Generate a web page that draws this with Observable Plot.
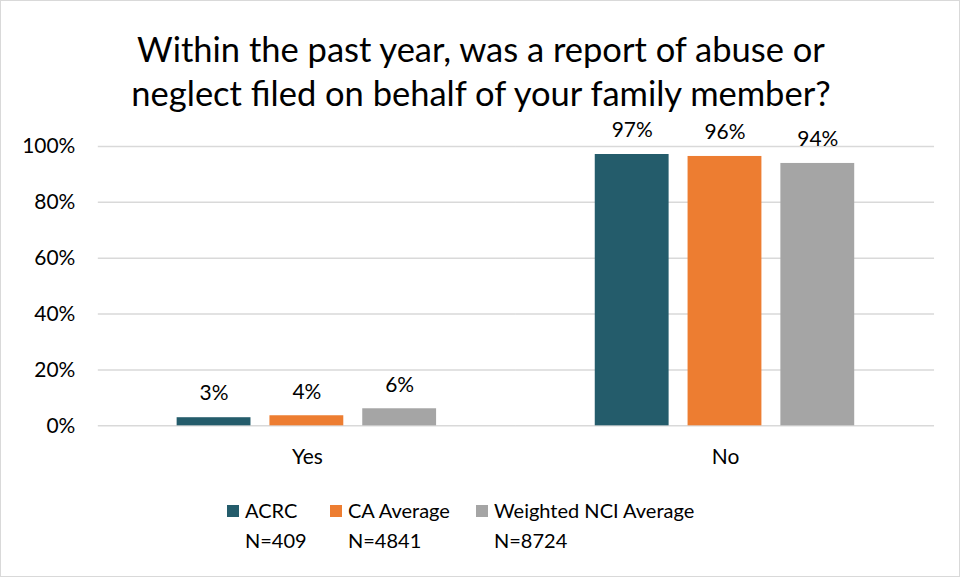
<!DOCTYPE html>
<html>
<head>
<meta charset="utf-8">
<script src="https://cdn.jsdelivr.net/npm/d3@7"></script>
<script src="https://cdn.jsdelivr.net/npm/@observablehq/plot@0.6"></script>
<style>
  html, body { margin: 0; padding: 0; background: #fff; }
  #frame { position: relative; width: 960px; height: 577px; box-sizing: border-box; border: 1px solid #d9d9d9; overflow: hidden; font-family: Lato, "Open Sans", sans-serif; color: #000; }
  #title { position: absolute; left: 0; top: 26px; width: 960px; text-align: center; font-size: 34.5px; line-height: 44px; z-index: 2; }
  #chart { position: absolute; left: 0; top: 100px; z-index: 1; }
  .leg { position: absolute; font-size: 20px; line-height: 30px; }
  .sw { position: absolute; width: 12px; height: 12px; }
</style>
</head>
<body>
<div id="frame">
  <div id="title">Within the past year, was a report of abuse or<br>neglect filed on behalf of your family member?</div>
  <div id="chart"></div>
  <div id="legend"></div>
</div>
<script>
const categories = ["Yes", "No"];
const series = ["ACRC", "CA Average", "Weighted NCI Average"];
const sampleSizes = ["N=409", "N=4841", "N=8724"];
const acrcValues = [2.9, 97.1];
const caValues = [3.6, 96.4];
const nciValues = [6.1, 93.9];
const yTicks = [0, 20, 40, 60, 80, 100];

const colors = ["#245c6b", "#ed7d31", "#a5a5a5"];
const seriesValues = [acrcValues, caValues, nciValues];
const data = categories.flatMap((c, i) =>
  series.map((s, j) => ({category: c, series: s, value: seriesValues[j][i]}))
);

const fontSize = "21px";
const chart = Plot.plot({
  width: 960,
  height: 380,
  marginLeft: 96,
  marginRight: 25,
  marginTop: 45,
  marginBottom: 55,
  style: {fontFamily: "Lato, 'Open Sans', sans-serif", fontSize: fontSize, color: "#000", background: "transparent"},
  fx: {domain: categories, padding: 0, label: null},
  x: {domain: series, paddingInner: 0.2, paddingOuter: 0.85, axis: null},
  y: {domain: [0, 100], label: null},
  color: {domain: series, range: colors},
  marks: [
    Plot.gridY(yTicks, {stroke: "#d9d9d9", strokeOpacity: 1, strokeWidth: 1.5}),
    Plot.axisY(yTicks, {tickSize: 0, tickPadding: 23, tickFormat: d => d + "%", fontSize: fontSize, label: null}),
    Plot.axisFx({anchor: "bottom", tickSize: 0, tickPadding: 23, fontSize: fontSize, label: null}),
    Plot.barY(data, {fx: "category", x: "series", y: "value", fill: "series"}),
    Plot.text(data, {fx: "category", x: "series", y: "value", text: d => Math.round(d.value) + "%", dy: -24, lineAnchor: "middle", fontSize: fontSize, fill: "#000"})
  ]
});
document.getElementById("chart").appendChild(chart);

const legendLeft = [226, 329, 475];
const legend = document.getElementById("legend");
series.forEach((s, j) => {
  const sw = document.createElement("div");
  sw.className = "sw";
  sw.style.left = legendLeft[j] + "px";
  sw.style.top = "504px";
  sw.style.background = colors[j];
  legend.appendChild(sw);
  const t = document.createElement("div");
  t.className = "leg";
  t.style.left = (legendLeft[j] + 18) + "px";
  t.style.top = "494px";
  t.innerHTML = s + "<br>" + sampleSizes[j];
  legend.appendChild(t);
});
</script>
</body>
</html>
